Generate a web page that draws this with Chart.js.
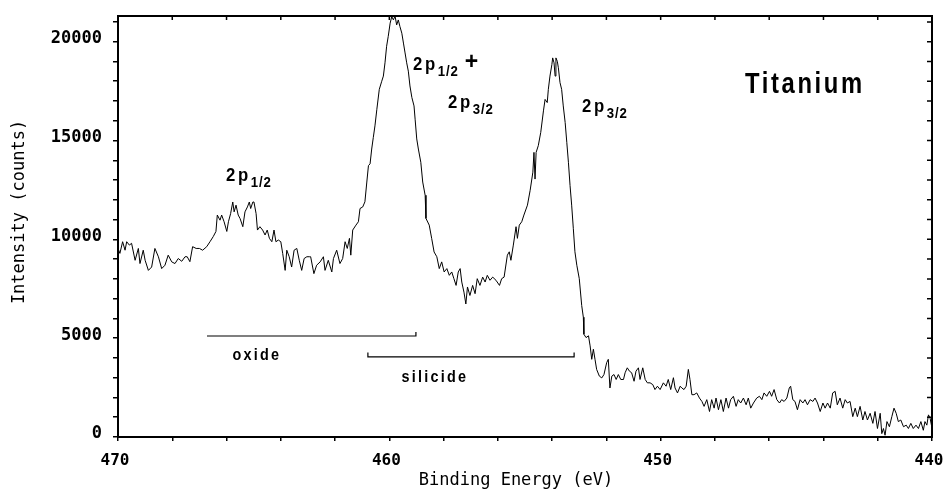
<!DOCTYPE html>
<html>
<head>
<meta charset="utf-8">
<script src="https://cdn.jsdelivr.net/npm/chart.js@4/dist/chart.umd.min.js"></script>
<style>
  html, body { margin: 0; padding: 0; background: #fff; overflow: hidden; }
  #wrap { width: 944px; height: 490px; position: relative; }
</style>
</head>
<body>
<div id="wrap"><canvas id="xps"></canvas></div>
<script>
// Ti 2p spectrum
const energyEV = [
  470.00, 469.93, 469.83, 469.74, 469.68, 469.58, 469.50, 469.37, 469.25, 469.19,
  469.07, 469.00, 468.88, 468.76, 468.64, 468.51, 468.39, 468.27, 468.15, 468.02,
  467.90, 467.78, 467.65, 467.53, 467.45, 467.35, 467.25, 467.12, 467.00, 466.88,
  466.73, 466.61, 466.49, 466.39, 466.34, 466.24, 466.18, 466.09, 465.99, 465.93,
  465.85, 465.77, 465.72, 465.65, 465.57, 465.50, 465.40, 465.32, 465.23, 465.16,
  465.11, 465.03, 464.99, 464.91, 464.86, 464.77, 464.67, 464.58, 464.50, 464.42,
  464.33, 464.25, 464.18, 464.09, 464.00, 463.93, 463.84, 463.78, 463.69, 463.60,
  463.51, 463.41, 463.32, 463.23, 463.14, 463.04, 462.95,
  462.90, 462.78, 462.68, 462.55, 462.43, 462.37, 462.25, 462.12, 462.06, 461.94,
  461.82, 461.72, 461.63, 461.55, 461.47, 461.42, 461.35, 461.23, 461.14, 461.08,
  460.98, 460.90, 460.83, 460.77, 460.71, 460.65, 460.59, 460.53, 460.46, 460.37,
  460.28, 460.22, 460.16, 460.10, 460.04, 459.97, 459.91, 459.85, 459.79, 459.73,
  459.67, 459.61, 459.54, 459.48, 459.42, 459.36, 459.30, 459.24, 459.17, 459.09,
  459.05, 458.99, 458.93, 458.84, 458.77, 458.68, 458.65, 458.53, 458.44, 458.35,
  458.25, 458.16,
  458.07, 457.98, 457.88, 457.79, 457.70, 457.62, 457.54, 457.46, 457.39, 457.33,
  457.25, 457.18, 457.12, 457.03, 456.93, 456.84, 456.76, 456.66, 456.56, 456.47,
  456.39, 456.29, 456.19, 456.07, 455.94, 455.86, 455.77, 455.65, 455.58, 455.52,
  455.43, 455.33, 455.28, 455.21, 455.12, 455.04, 454.91, 454.81, 454.71, 454.67,
  454.63, 454.59, 454.51, 454.42, 454.32, 454.26, 454.18, 454.14, 454.08, 454.01,
  453.98, 453.93, 453.89, 453.86, 453.81, 453.77, 453.71, 453.65, 453.59, 453.52,
  453.46, 453.40, 453.34, 453.28, 453.22, 453.16, 453.09, 453.00, 452.91, 452.85,
  452.83, 452.75, 452.66, 452.60, 452.54, 452.48, 452.42, 452.36, 452.26, 452.17,
  452.09, 451.99, 451.93, 451.87, 451.80, 451.72, 451.64, 451.56, 451.47, 451.37,
  451.31, 451.23, 451.15, 451.07, 450.98, 450.91, 450.82, 450.76, 450.66, 450.57,
  450.49, 450.39, 450.29, 450.21, 450.12, 450.02, 449.90, 449.80, 449.72, 449.63,
  449.53, 449.47, 449.38, 449.28, 449.22, 449.14, 449.06, 448.98, 448.92, 448.85,
  448.77, 448.67, 448.57, 448.48, 448.40, 448.30, 448.20, 448.12, 448.03, 447.96,
  447.87, 447.78, 447.69, 447.59, 447.50, 447.42, 447.32, 447.22, 447.14, 447.05,
  446.95, 446.85, 446.77, 446.68, 446.58, 446.46, 446.36,
  446.27, 446.19, 446.09, 445.99, 445.91, 445.82, 445.72, 445.62, 445.54, 445.45,
  445.35, 445.26, 445.21, 445.13, 445.05, 444.96, 444.86, 444.76, 444.68, 444.59,
  444.49, 444.39, 444.31, 444.22, 444.12, 444.02, 443.94, 443.85, 443.75, 443.66,
  443.57, 443.49, 443.39, 443.29, 443.20, 443.12, 443.02, 442.92, 442.83, 442.75,
  442.65, 442.55, 442.47, 442.38, 442.28, 442.18, 442.10, 442.01, 441.91, 441.85,
  441.79, 441.73, 441.66, 441.57, 441.48, 441.40, 441.32, 441.24, 441.15, 441.05,
  440.95, 440.87, 440.78, 440.69, 440.59, 440.50, 440.41, 440.32, 440.26, 440.19,
  440.13, 440.07, 440.01
];
const intensityCounts = [
  9540, 9290, 9880, 9450, 9880, 9710, 9800, 8940, 9540, 8775,
  9450, 8940, 8430, 8600, 9540, 9115, 8520, 8690, 9200, 8860,
  8775, 9030, 8890, 9120, 9120, 8870, 9630, 9540, 9540, 9450,
  9630, 9880, 10140, 10400, 11230, 10970, 11230, 10890, 10400, 10890,
  11300, 11890, 11390, 11730, 11230, 11050, 10640, 11390, 11640, 11890,
  11560, 11890, 11890, 11300, 10470, 10640, 10470, 10220, 10470, 10050,
  9880, 10470, 9880, 9965, 9880, 9290, 8430, 9450, 9120, 8600,
  9450, 9540, 8940, 8430, 9030, 9120, 9120,
  9120, 8265, 8690, 8860, 9120, 8430, 8940, 8350, 9030, 9450,
  8775, 9030, 9880, 9540, 10050, 9200, 10470, 10720, 10890, 11560,
  11640, 11900, 12900, 13730, 13820, 14570, 15160, 15740, 16580, 17590,
  18000, 18260, 18930, 19770, 20270, 20940, 21270, 21100, 21300, 20850,
  21100, 20770, 20430, 19930, 19430, 18930, 18510, 17760, 17180, 16750,
  16080, 15080, 14570, 13900, 12900, 12230, 11060, 10720, 10050, 9360,
  9120, 8520,
  8860, 8350, 8520, 8180, 8350, 8010, 7670, 8350, 8520, 7840,
  7330, 6730, 7590, 7160, 7670, 7250, 8010, 7670, 8090, 7840,
  8180, 7930, 8090, 7930, 7670, 8010, 8090, 9200, 9370, 8940,
  9710, 10640, 10050, 10720, 10890, 11230, 11730, 12480, 13400, 14400,
  13050, 14400, 14740, 15410, 16500, 17080, 16920, 17590, 18260, 18840,
  19180, 18930, 18260, 19180, 19010, 18680, 17930, 17590, 16750, 15910,
  14910, 13900, 12730, 11730, 10560, 9370, 8690, 8010, 6650, 6060,
  5200, 5030, 5120, 4610, 3930, 4440, 3930, 3420, 3080, 2990,
  3160, 3760, 3930, 2480, 3080, 3160, 2910, 3160, 2910, 2910,
  3250, 3500, 3330, 3250, 2820, 3330, 3500, 2910, 3500, 2910,
  2740, 2740, 2650, 2400, 2570, 2400, 2740, 2570, 2910, 2400,
  3000, 2480, 2230, 2570, 2480, 2400, 2570, 3420, 2910, 2140,
  2140, 2230, 1970, 1800, 1550, 1890, 1290, 1890, 1460, 1970,
  1380, 1890, 1290, 1970, 1460, 1890, 2060, 1550, 1890, 1720,
  1970, 1630, 1970, 1460, 1720, 1970, 2060,
  1890, 2230, 2060, 2310, 2060, 2400, 1890, 1720, 1890, 1800,
  1970, 2480, 2570, 1890, 1800, 1380, 1890, 1720, 1890, 1630,
  1890, 1800, 1970, 1720, 1290, 1720, 1460, 1720, 1460, 2230,
  2310, 1630, 1970, 1460, 1890, 1720, 1800, 1030, 1460, 1030,
  1550, 860, 1290, 860, 1200, 690, 1290, 430, 1200, 170,
  430, 90, 780, 520, 1030, 1460, 1200, 780, 860, 520,
  600, 430, 690, 430, 600, 430, 780, 340, 780, 600,
  1120, 950, 520
];

// component ranges marked under the peaks (eV)
const oxideRange = [466.72, 459.02];
const silicideRange = [460.79, 453.19];
const oxideLevel = [5110, 5310];
const silicideLevel = [4050, 4275];

// tick marks (every 2 eV / 1000 counts), labelled ones
const xTickValues = [470, 468, 466, 464, 462, 460, 458, 456, 454, 452, 450, 448, 446, 444, 442, 440];
const yTickValues = [0, 1000, 2000, 3000, 4000, 5000, 6000, 7000, 8000, 9000, 10000,
  11000, 12000, 13000, 14000, 15000, 16000, 17000, 18000, 19000, 20000, 21000];
const xTickLabels = [470, 460, 450, 440];
const yTickLabels = [0, 5000, 10000, 15000, 20000];

// text annotations: [eV, counts]
const peakLabels = [
  { main: "2p", sub: "1/2", extra: "", at: [466.02, 12950] },
  { main: "2p", sub: "1/2", extra: "+", at: [459.13, 18570] },
  { main: "2p", sub: "3/2", extra: "", at: [457.84, 16650] },
  { main: "2p", sub: "3/2", extra: "", at: [452.90, 16440] }
];

const spectrum = energyEV.map((e, i) => ({ x: e, y: intensityCounts[i] }));
const oxideLine = [
  { x: oxideRange[0], y: oxideLevel[0] },
  { x: oxideRange[1], y: oxideLevel[0] },
  { x: oxideRange[1], y: oxideLevel[1] }
];
const silicideLine = [
  { x: silicideRange[0], y: silicideLevel[1] },
  { x: silicideRange[0], y: silicideLevel[0] },
  { x: silicideRange[1], y: silicideLevel[0] },
  { x: silicideRange[1], y: silicideLevel[1] }
];

const monoFont = "'DejaVu Sans Mono', monospace";
const sansFont = "'Liberation Sans', Arial, sans-serif";

function drawText(ctx, text, x, y, size, scaleX, spacing, align) {
  ctx.save();
  ctx.font = "bold " + size + "px " + sansFont;
  ctx.letterSpacing = spacing + "px";
  let w = ctx.measureText(text).width * scaleX;
  let left = x;
  if (align === "center") left = x - w / 2;
  ctx.translate(left, y);
  ctx.scale(scaleX, 1);
  ctx.textAlign = "left";
  ctx.textBaseline = "alphabetic";
  ctx.fillText(text, 0, 0);
  ctx.restore();
  return w;
}

const framePlugin = {
  id: "frame",
  afterDraw(chart) {
    const ctx = chart.ctx;
    const a = chart.chartArea;
    const xs = chart.scales.x;
    const ys = chart.scales.y;
    ctx.save();
    ctx.fillStyle = "#000";
    ctx.strokeStyle = "#000";

    // box + inner ticks on top and right
    ctx.lineWidth = 2;
    ctx.strokeRect(a.left, a.top, a.right - a.left, a.bottom - a.top);
    ctx.lineWidth = 1.5;
    ctx.beginPath();
    xTickValues.forEach(v => {
      const px = xs.getPixelForValue(v);
      ctx.moveTo(px, a.top);
      ctx.lineTo(px, a.top + 4);
    });
    yTickValues.forEach(v => {
      const py = ys.getPixelForValue(v);
      ctx.moveTo(a.right, py);
      ctx.lineTo(a.right - 5, py);
    });
    ctx.stroke();

    // axis titles
    ctx.font = "17px " + monoFont;
    ctx.textAlign = "center";
    ctx.textBaseline = "middle";
    ctx.fillText("Binding Energy (eV)", 516, 481);
    ctx.save();
    ctx.translate(20, 212);
    ctx.rotate(-Math.PI / 2);
    ctx.fillText("Intensity (counts)", 0, 0);
    ctx.restore();

    // peak labels
    peakLabels.forEach(l => {
      const x0 = xs.getPixelForValue(l.at[0]);
      const y0 = ys.getPixelForValue(l.at[1]);
      let w = drawText(ctx, l.main, x0, y0, 19, 0.88, 3, "left");
      let w2 = drawText(ctx, l.sub, x0 + w, y0 + 6, 15, 0.88, 1, "left");
      if (l.extra) drawText(ctx, l.extra, x0 + w + w2 + 6, y0 - 1, 23, 1, 0, "left");
    });

    drawText(ctx, "Titanium", xs.getPixelForValue(446.89), ys.getPixelForValue(17405), 29, 0.82, 3.2, "left");
    drawText(ctx, "oxide", xs.getPixelForValue(464.88), ys.getPixelForValue(3896), 16, 0.9, 2.5, "center");
    drawText(ctx, "silicide", xs.getPixelForValue(458.32), ys.getPixelForValue(2783), 16, 0.9, 2.5, "center");
    ctx.restore();
  }
};

new Chart(document.getElementById("xps").getContext("2d"), {
  type: "line",
  data: {
    datasets: [
      { data: spectrum, borderColor: "#000", borderWidth: 1, pointRadius: 0, tension: 0, fill: false },
      { data: oxideLine, borderColor: "#000", borderWidth: 1.2, pointRadius: 0, tension: 0, fill: false },
      { data: silicideLine, borderColor: "#000", borderWidth: 1.2, pointRadius: 0, tension: 0, fill: false }
    ]
  },
  options: {
    responsive: true,
    maintainAspectRatio: false,
    animation: false,
    devicePixelRatio: 1,
    layout: { padding: { top: 16, right: 12, left: 0, bottom: 0 } },
    plugins: { legend: { display: false }, tooltip: { enabled: false } },
    scales: {
      x: {
        type: "linear",
        min: 440,
        max: 470,
        reverse: true,
        afterBuildTicks: s => { s.ticks = xTickValues.map(v => ({ value: v })); },
        afterFit: s => { s.height = 53; s.paddingLeft = 0; s.paddingRight = 0; },
        border: { display: true, color: "#000", width: 2 },
        grid: { drawOnChartArea: false, drawTicks: true, tickLength: 4, color: "#000", lineWidth: 1.5 },
        ticks: {
          autoSkip: false,
          maxRotation: 0,
          padding: 10,
          labelOffset: -3,
          color: "#000",
          font: { family: monoFont, size: 16, weight: "bold" },
          callback: v => (xTickLabels.includes(v) ? String(v) : "")
        }
      },
      y: {
        type: "linear",
        min: 0,
        max: 21300,
        afterBuildTicks: s => { s.ticks = yTickValues.map(v => ({ value: v })); },
        afterFit: s => { s.width = 118; s.paddingTop = 0; s.paddingBottom = 0; },
        border: { display: true, color: "#000", width: 2 },
        grid: { drawOnChartArea: false, drawTicks: true, tickLength: 5, color: "#000", lineWidth: 1.5 },
        ticks: {
          autoSkip: false,
          padding: 11,
          labelOffset: -3,
          color: "#000",
          font: { family: monoFont, size: 17, weight: "bold" },
          callback: v => (yTickLabels.includes(v) ? String(v) : "")
        }
      }
    }
  },
  plugins: [framePlugin]
});
</script>
</body>
</html>
